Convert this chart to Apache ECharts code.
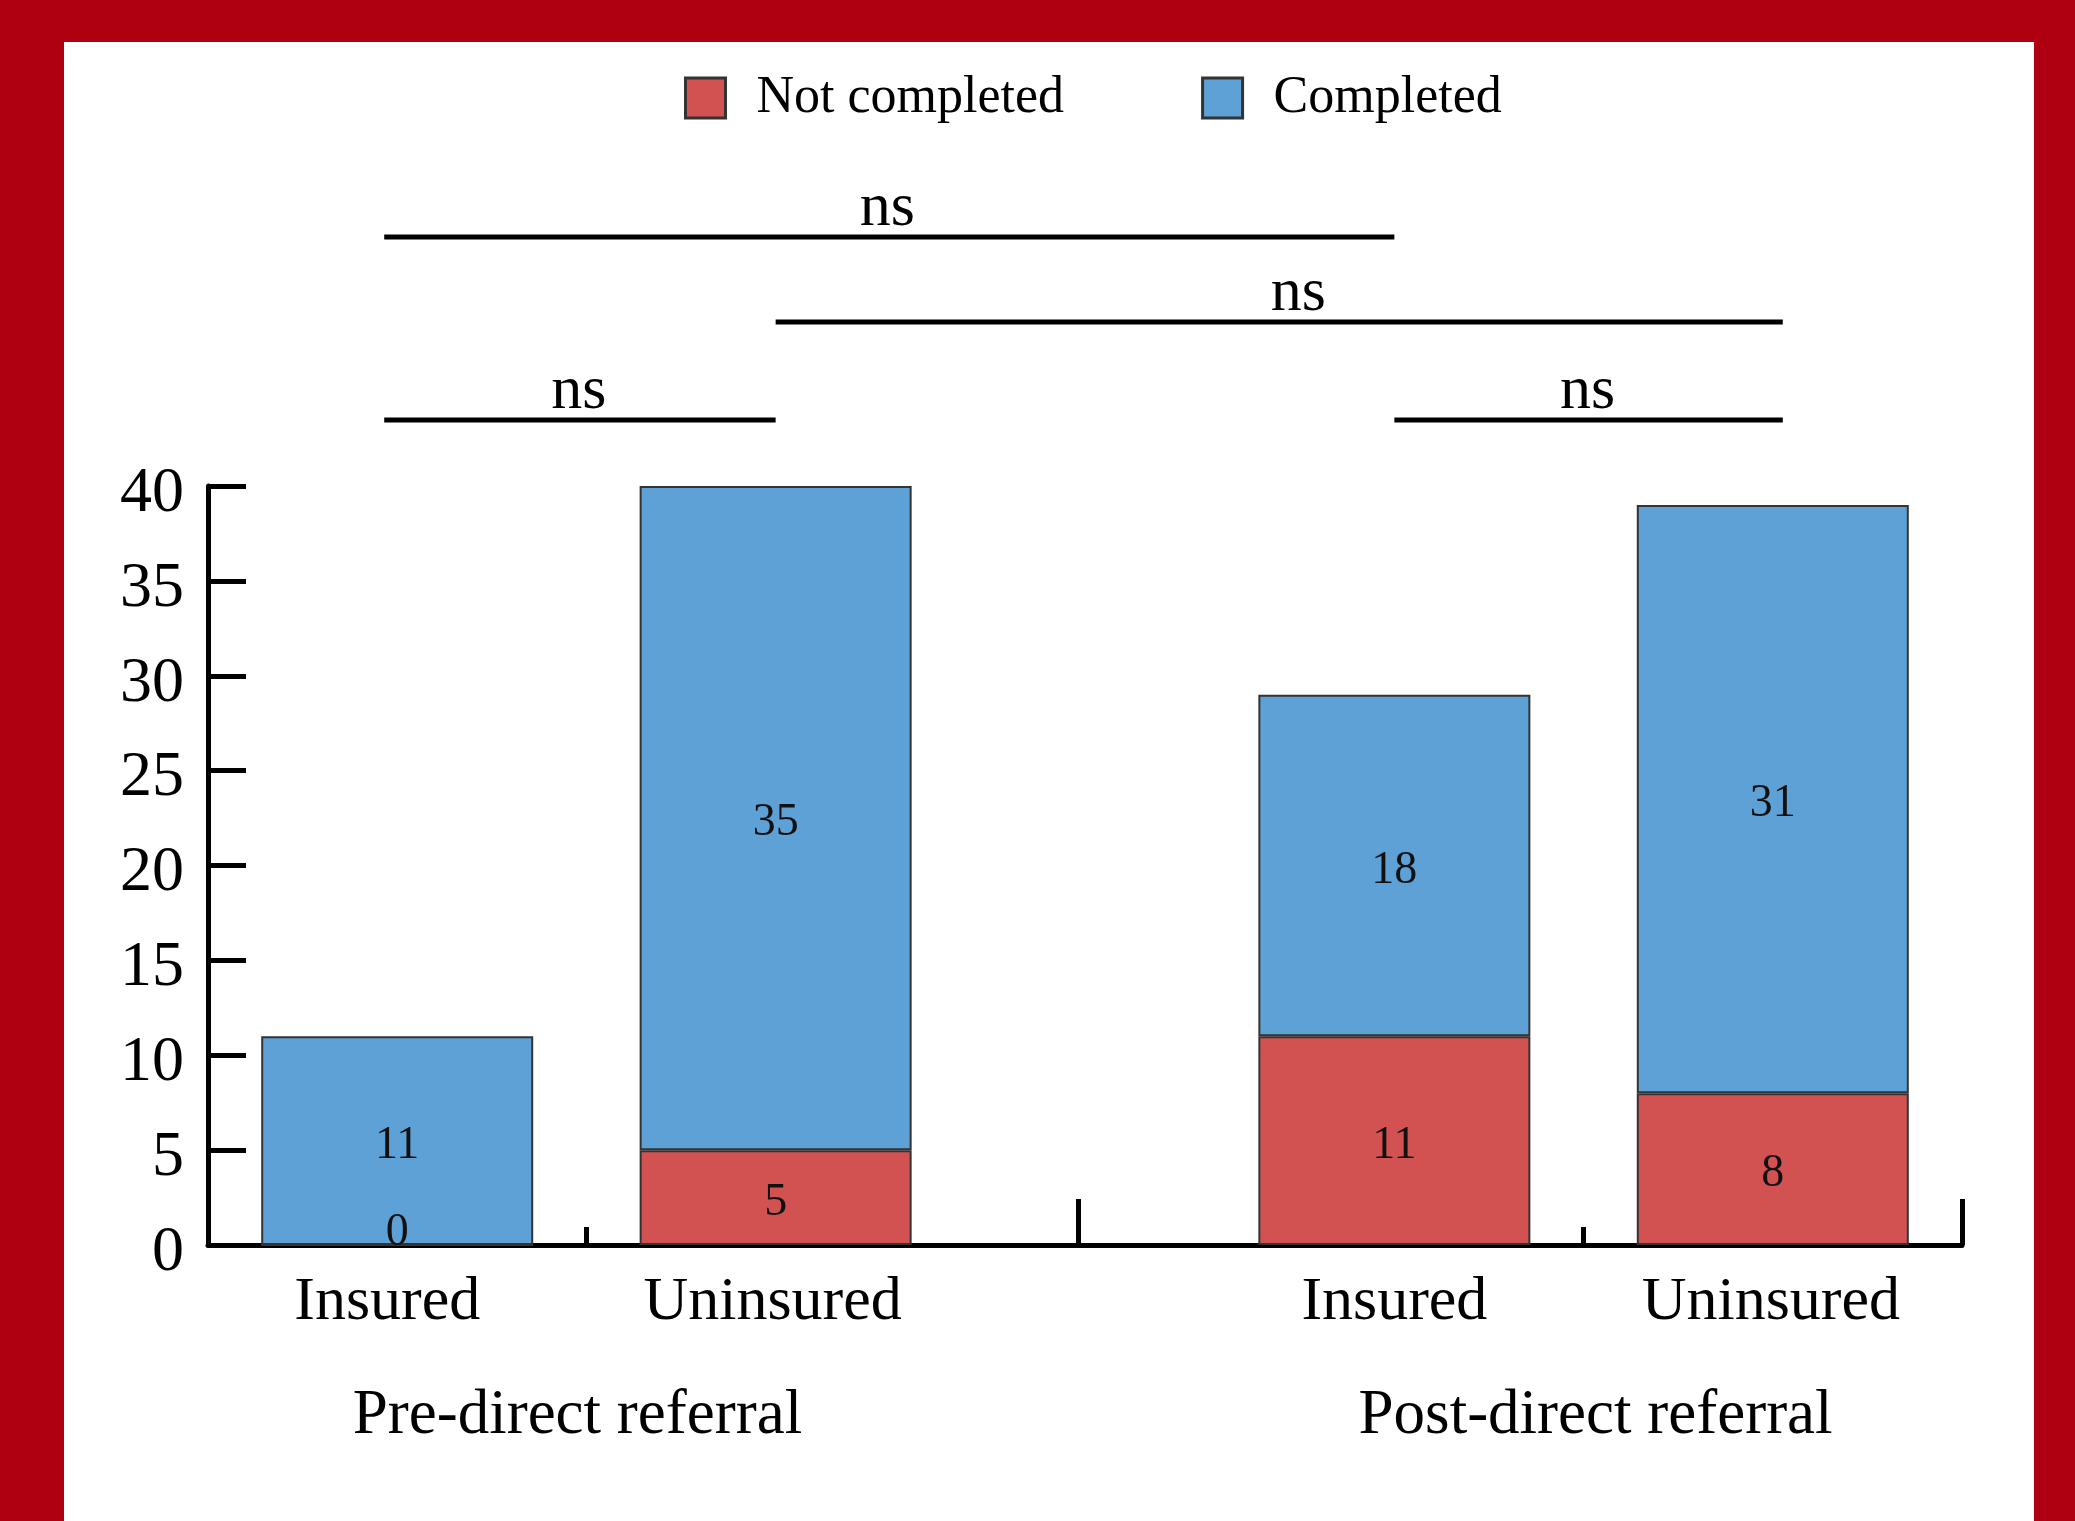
<!DOCTYPE html>
<html>
<head>
<meta charset="utf-8">
<title>Referral completion by insurance status</title>
<script src="https://cdn.jsdelivr.net/npm/echarts@6/dist/echarts.min.js"></script>
<style>
  html, body { margin: 0; padding: 0; width: 2075px; height: 1521px; background: #AE0010; overflow: hidden; }
  #chart { position: absolute; left: 64px; top: 42px; width: 1970px; height: 1479px; background: #ffffff; }
</style>
</head>
<body>
<div id="chart"></div>
<script>
// ---- data ----
const groups = ['Pre-direct referral', 'Post-direct referral'];
const categories = ['Insured', 'Uninsured', 'Insured', 'Uninsured'];
const groupOf = [0, 0, 1, 1];
const notCompleted = [0, 5, 11, 8];
const completed = [11, 35, 18, 31];
const yTicks = { min: 0, max: 40, step: 5 };
// pairwise comparisons: [from bar, to bar, bracket tier, label]
const comparisons = [
  [0, 1, 0, 'ns'],
  [2, 3, 0, 'ns'],
  [1, 3, 1, 'ns'],
  [0, 2, 2, 'ns']
];

// ---- layout ----
const GRID = { left: 144, top: 444, width: 1754, height: 759 };
const GAP = 0.635;                       // empty space between the two groups (slot units)
const SEP_FRAC = 0.47;                   // where the group divider sits inside the gap
const groupWidth = 2;                    // two bars per group
const xEnd = groups.length * groupWidth + (groups.length - 1) * GAP;
const slotPx = GRID.width / xEnd;
const groupStart = g => g * (groupWidth + GAP);
const withinIndex = categories.map((_, i) => groupOf.slice(0, i).filter(g => g === groupOf[i]).length);
const barX = categories.map((_, i) => groupStart(groupOf[i]) + withinIndex[i] + 0.5);
const groupCenters = groups.map((_, g) => groupStart(g) + groupWidth / 2);
const groupSeparators = groups.map((_, g) => g < groups.length - 1 ? groupStart(g) + groupWidth + GAP * SEP_FRAC : xEnd);

// small horizontal nudges in pixels
const catLabelShift = [-10, -3, 0, -2];
const groupLabelShift = [-9, 12];
const bracketEndShift = [-13, 0, 0, 10];
const bracketTextShift = [-1, -1, 19, -2];
const tierOffsets = [66, 164, 249];      // bracket height, pixels above the top of the y axis

const catLabelX = barX.map((x, i) => x + catLabelShift[i] / slotPx);
const groupLabelX = groupCenters.map((x, g) => x + groupLabelShift[g] / slotPx);

const FONT = "'Liberation Serif', 'Times New Roman', serif";
const RED = '#D25252';
const BLUE = '#5EA1D6';

const lookup = (positions, names) => value => {
  const i = positions.findIndex(x => Math.abs(x - value) < 1e-6);
  return i >= 0 ? names[i] : '';
};

const segLabel = {
  show: true,
  position: 'inside',
  offset: [0, 5],
  fontFamily: FONT,
  fontSize: 46,
  color: '#111',
  formatter: p => p.value[0]
};

// rows are [count, x position]; count comes first so it is the stacked dimension
const toRows = values => values.map((v, i) => [v, barX[i]]);

const chart = echarts.init(document.getElementById('chart'), null, { renderer: 'canvas' });

chart.setOption({
  animation: false,
  backgroundColor: '#ffffff',
  textStyle: { fontFamily: FONT, color: '#000' },
  legend: {
    data: ['Not completed', 'Completed'],
    left: 615,
    top: 25,
    icon: 'rect',
    itemWidth: 40,
    itemHeight: 40,
    itemGap: 137,
    itemStyle: { borderColor: '#333', borderWidth: 3 },
    textStyle: { fontFamily: FONT, fontSize: 52, color: '#000', padding: [0, 0, 0, 26] }
  },
  grid: Object.assign({ containLabel: false }, GRID),
  xAxis: [
    {
      type: 'value',
      min: 0,
      max: xEnd,
      position: 'bottom',
      axisLine: { show: true, onZero: false, lineStyle: { color: '#000', width: 5 } },
      axisTick: { show: true, inside: true, length: 18, customValues: groupCenters, lineStyle: { color: '#000', width: 5 } },
      axisLabel: {
        show: true, customValues: catLabelX, formatter: lookup(catLabelX, categories),
        fontFamily: FONT, fontSize: 62, color: '#000', margin: 27
      },
      splitLine: { show: false }
    },
    {
      type: 'value',
      min: 0,
      max: xEnd,
      position: 'bottom',
      offset: 0,
      axisLine: { show: false, onZero: false },
      axisTick: { show: true, inside: true, length: 46, customValues: groupSeparators, lineStyle: { color: '#000', width: 5 } },
      axisLabel: {
        show: true, customValues: groupLabelX, formatter: lookup(groupLabelX, groups),
        fontFamily: FONT, fontSize: 63, color: '#000', margin: 140
      },
      splitLine: { show: false }
    }
  ],
  yAxis: {
    type: 'value',
    min: yTicks.min,
    max: yTicks.max,
    interval: yTicks.step,
    axisLine: { show: true, lineStyle: { color: '#000', width: 5 } },
    axisTick: { show: true, inside: true, length: 38, lineStyle: { color: '#000', width: 5 } },
    axisLabel: {
      fontFamily: FONT, fontSize: 64, color: '#000', margin: 24,
      verticalAlign: 'top', lineHeight: 16
    },
    splitLine: { show: false }
  },
  series: [
    {
      name: 'Not completed',
      type: 'bar',
      stack: 'total',
      xAxisIndex: 0,
      dimensions: ['count', 'pos'],
      encode: { x: 'pos', y: 'count' },
      barWidth: 272,
      itemStyle: { color: RED, borderColor: '#333', borderWidth: 2 },
      label: segLabel,
      data: toRows(notCompleted).map(r => r[0] === 0
        ? { value: r, label: { offset: [0, -12] } }
        : { value: r })
    },
    {
      name: 'Completed',
      type: 'bar',
      stack: 'total',
      xAxisIndex: 0,
      dimensions: ['count', 'pos'],
      encode: { x: 'pos', y: 'count' },
      barWidth: 272,
      itemStyle: { color: BLUE, borderColor: '#333', borderWidth: 2 },
      label: segLabel,
      data: toRows(completed)
    },
    {
      // significance brackets above the bars
      type: 'custom',
      xAxisIndex: 0,
      yAxisIndex: 0,
      clip: false,
      silent: true,
      encode: { x: [0, 1] },
      data: comparisons.map(c => [barX[c[0]], barX[c[1]], c[2]]),
      renderItem: (params, api) => {
        const c = comparisons[params.dataIndex];
        const a = api.coord([api.value(0), yTicks.max]);
        const b = api.coord([api.value(1), yTicks.max]);
        const x1 = a[0] + bracketEndShift[c[0]];
        const x2 = b[0] + bracketEndShift[c[1]];
        const y = a[1] - tierOffsets[api.value(2)];
        return {
          type: 'group',
          children: [
            { type: 'line', shape: { x1: x1, y1: y, x2: x2, y2: y }, style: { stroke: '#000', lineWidth: 5 } },
            {
              type: 'text', x: (x1 + x2) / 2 + bracketTextShift[params.dataIndex], y: y + 3,
              style: {
                text: c[3], fill: '#000',
                font: '62px ' + FONT, textAlign: 'center', textVerticalAlign: 'bottom'
              }
            }
          ]
        };
      }
    }
  ]
});
</script>
</body>
</html>
